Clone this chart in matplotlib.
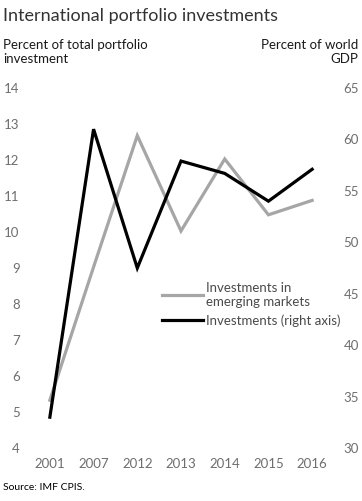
import matplotlib.pyplot as plt
import numpy as np

years = ["2001", "2007", "2012", "2013", "2014", "2015", "2016"]
emerging = [5.3, 9.0, 12.65, 10.0, 12.0, 10.45, 10.85]   # left axis
investments = [32.9, 60.9, 47.4, 57.8, 56.6, 53.9, 57.0]  # right axis
left_ticks = list(range(4, 15))
right_ticks = list(range(30, 70, 5))

plt.rcParams['font.family'] = ['Lato', 'DejaVu Sans']
tick_col = "#6e6e6e"

fig = plt.figure(figsize=(3.62, 5.02), dpi=100)
ax = fig.add_axes([28/362, 54/502, 306/362, 360/502])
ax2 = ax.twinx()

x = np.arange(len(years))
l1, = ax.plot(x, emerging, color="#a6a6a6", lw=2.3, solid_joinstyle="miter")
l2, = ax2.plot(x, investments, color="black", lw=2.3, solid_joinstyle="miter")

ax.set_xlim(-0.5, len(years) - 0.5)
ax.set_ylim(4, 14)
ax2.set_ylim(30, 65)
ax.set_xticks(x, years)
ax.set_yticks(left_ticks)
ax2.set_yticks(right_ticks)

for a in (ax, ax2):
    for s in a.spines.values():
        s.set_visible(False)
    a.tick_params(length=0, labelsize=9.5, labelcolor=tick_col)
ax.tick_params(axis='y', pad=6)
ax.tick_params(axis='x', pad=7)
ax2.tick_params(axis='y', pad=7)

ax.legend([l1, l2], ["Investments in\nemerging markets", "Investments (right axis)"],
          loc="upper left", bbox_to_anchor=(0.42, 0.475), frameon=False,
          handlelength=3.1, handletextpad=0.25, labelspacing=0.5,
          fontsize=9.5, labelcolor="#4a4a4a", borderaxespad=0)

fig.text(0.008, 0.968, "International portfolio investments", fontsize=13,
         color="#333333", va="center")
fig.text(0.008, 0.897, "Percent of total portfolio\ninvestment", fontsize=9.5,
         va="center", linespacing=1.2, color="#1a1a1a")
fig.text(0.99, 0.897, "Percent of world\nGDP", fontsize=9.5, va="center",
         ha="right", multialignment="right", linespacing=1.2, color="#1a1a1a")
fig.text(0.008, 0.028, "Source: IMF CPIS.", fontsize=7.5, va="center")

fig.savefig("out.png", dpi=100)
